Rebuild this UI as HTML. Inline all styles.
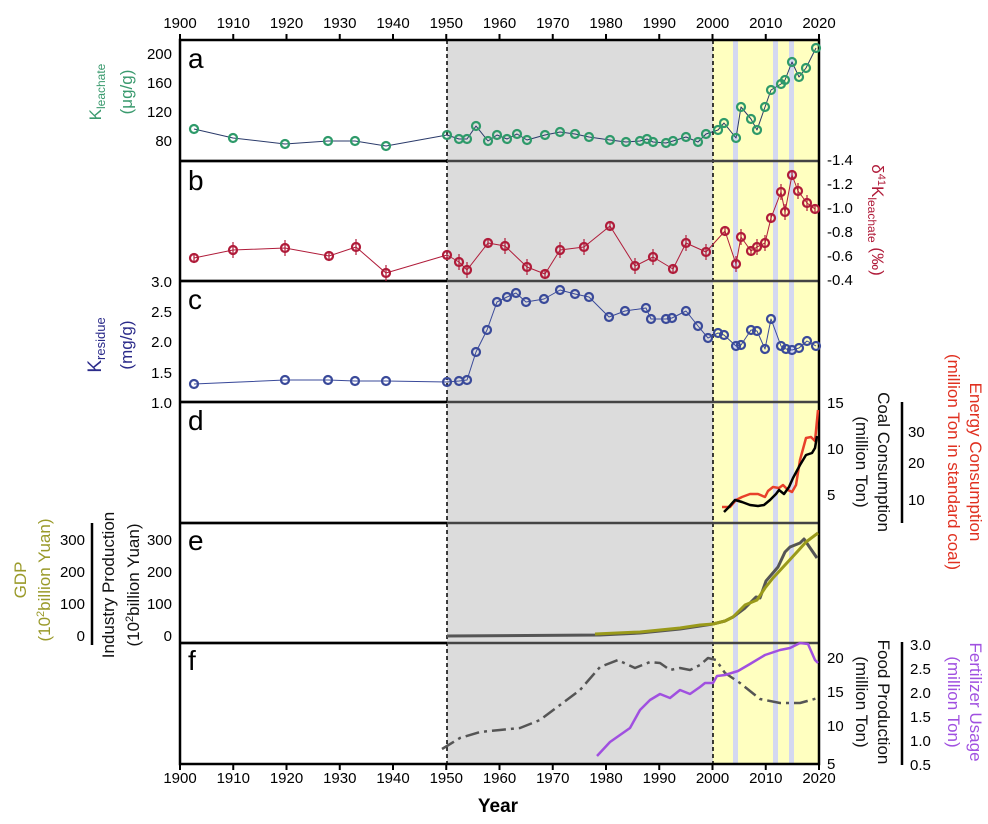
<!DOCTYPE html>
<html><head><meta charset="utf-8"><style>
body{margin:0;background:#fff;}
svg{display:block;font-family:"Liberation Sans",sans-serif;}
</style></head><body>
<svg id="s" width="988" height="824" viewBox="0 0 988 824" xmlns="http://www.w3.org/2000/svg">
<rect x="447" y="40" width="266" height="724" fill="#dcdcdc"/>
<rect x="713" y="40" width="106" height="724" fill="#ffffc0"/>
<rect x="733" y="40" width="5" height="724" fill="#d4d8f0"/>
<rect x="773" y="40" width="5" height="724" fill="#d4d8f0"/>
<rect x="789" y="40" width="5" height="724" fill="#d4d8f0"/>
<g stroke="#000" stroke-width="1.5" stroke-dasharray="4,3">
<line x1="447" y1="40" x2="447" y2="764"/><line x1="713" y1="40" x2="713" y2="764"/></g>
<g stroke="#444" stroke-width="2.5">
<line x1="180" y1="161" x2="819" y2="161"/><line x1="180" y1="281" x2="819" y2="281"/>
<line x1="180" y1="402" x2="819" y2="402"/><line x1="180" y1="523" x2="819" y2="523"/>
<line x1="180" y1="643" x2="819" y2="643"/></g>
<g stroke="#000" stroke-width="2.5">
<line x1="180" y1="161" x2="447" y2="161"/><line x1="180" y1="281" x2="447" y2="281"/>
<line x1="180" y1="402" x2="447" y2="402"/><line x1="180" y1="523" x2="447" y2="523"/>
<line x1="180" y1="643" x2="447" y2="643"/></g>
<rect x="180" y="40" width="639" height="724" fill="none" stroke="#000" stroke-width="2.5"/>
<g id="dyn"></g>
<g font-size="28" fill="#000"><text x="188" y="68">a</text><text x="188" y="190">b</text><text x="188" y="309">c</text><text x="188" y="430">d</text><text x="188" y="550">e</text><text x="188" y="670">f</text></g>
<g font-size="15" text-anchor="middle" id="xl"></g>
<text x="498" y="812" font-size="19" font-weight="bold" text-anchor="middle">Year</text>
<g font-size="15" text-anchor="end">
<text x="172" y="59">200</text><text x="172" y="88">160</text><text x="172" y="117">120</text><text x="172" y="146">80</text>
<text x="172" y="287">3.0</text><text x="172" y="317">2.5</text><text x="172" y="347">2.0</text><text x="172" y="378">1.5</text><text x="172" y="408">1.0</text>
<text x="172" y="545">300</text><text x="172" y="577">200</text><text x="172" y="609">100</text><text x="172" y="641">0</text>
<text x="85" y="545">300</text><text x="85" y="577">200</text><text x="85" y="609">100</text><text x="85" y="641">0</text>
</g>
<line x1="92" y1="523" x2="92" y2="645" stroke="#000" stroke-width="2.5"/>
<g font-size="15">
<text x="827" y="165">-1.4</text><text x="827" y="189">-1.2</text><text x="827" y="213">-1.0</text><text x="827" y="237">-0.8</text><text x="827" y="261">-0.6</text><text x="827" y="285">-0.4</text>
<text x="827" y="408">15</text><text x="827" y="454">10</text><text x="827" y="500">5</text>
<text x="908" y="437">30</text><text x="908" y="468">20</text><text x="908" y="505">10</text>
<text x="827" y="663">20</text><text x="827" y="697">15</text><text x="827" y="731">10</text><text x="827" y="769">5</text>
<text x="910" y="650">3.0</text><text x="910" y="674">2.5</text><text x="910" y="698">2.0</text><text x="910" y="722">1.5</text><text x="910" y="746">1.0</text><text x="910" y="770">0.5</text>
</g>
<line x1="902" y1="402" x2="902" y2="523" stroke="#000" stroke-width="2.5"/>
<line x1="902" y1="642" x2="902" y2="765" stroke="#000" stroke-width="2.5"/>
<g font-size="17">
<text transform="translate(101,92) rotate(-90)" text-anchor="middle" fill="#3a9a6e">K<tspan font-size="12" dy="4">leachate</tspan></text>
<text transform="translate(132,92) rotate(-90)" text-anchor="middle" fill="#3a9a6e">(μg/g)</text>
<text transform="translate(101,345) rotate(-90)" text-anchor="middle" fill="#2b2b8a" font-size="19">K<tspan font-size="13" dy="4">residue</tspan></text>
<text transform="translate(132,345) rotate(-90)" text-anchor="middle" fill="#2b2b8a">(mg/g)</text>
<text transform="translate(26,580) rotate(-90)" text-anchor="middle" fill="#9a9a2a">GDP</text>
<text transform="translate(50,580) rotate(-90)" text-anchor="middle" fill="#9a9a2a">(10<tspan font-size="11" dy="-6">2</tspan><tspan dy="6">billion Yuan)</tspan></text>
<text transform="translate(114,585) rotate(-90)" text-anchor="middle" fill="#111">Industry Production</text>
<text transform="translate(139,585) rotate(-90)" text-anchor="middle" fill="#111">(10<tspan font-size="11" dy="-6">2</tspan><tspan dy="6">billion Yuan)</tspan></text>
<text transform="translate(872,220) rotate(90)" text-anchor="middle" fill="#b01c3a">δ<tspan font-size="11" dy="-6">41</tspan><tspan dy="6">K</tspan><tspan font-size="12" dy="4">leachate</tspan><tspan dy="-4"> (‰)</tspan></text>
<text transform="translate(878,462) rotate(90)" text-anchor="middle" fill="#111">Coal Consumption</text>
<text transform="translate(856,462) rotate(90)" text-anchor="middle" fill="#111">(million Ton)</text>
<text transform="translate(970,462) rotate(90)" text-anchor="middle" fill="#e03020">Energy Consumption</text>
<text transform="translate(948,462) rotate(90)" text-anchor="middle" fill="#e03020">(million Ton in standard coal)</text>
<text transform="translate(878,702) rotate(90)" text-anchor="middle" fill="#111">Food Production</text>
<text transform="translate(856,702) rotate(90)" text-anchor="middle" fill="#111">(million Ton)</text>
<text transform="translate(970,702) rotate(90)" text-anchor="middle" fill="#a050e0">Fertilizer Usage</text>
<text transform="translate(948,702) rotate(90)" text-anchor="middle" fill="#a050e0">(million  Ton)</text>
</g>
</svg>
<script>
var NS="http://www.w3.org/2000/svg",d=document.getElementById("dyn"),xl=document.getElementById("xl");
function el(t,a,p){var e=document.createElementNS(NS,t);for(var k in a)e.setAttribute(k,a[k]);(p||d).appendChild(e);return e;}
function pts(a){return a.map(function(p){return p[0]+","+p[1]}).join(" ");}
function line(a,c,w,dash){var o={points:pts(a),fill:"none",stroke:c,"stroke-width":w,"stroke-linejoin":"round"};if(dash)o["stroke-dasharray"]=dash;el("polyline",o);}
function mk(a,c){a.forEach(function(p){el("circle",{cx:p[0],cy:p[1],r:4,fill:"none",stroke:c,"stroke-width":2.2});});}
for(var y=1900;y<=2020;y+=10){var x=180+(y-1900)*5.325;
 var t=el("text",{x:x,y:28},xl);t.textContent=y;var t2=el("text",{x:x,y:783},xl);t2.textContent=y;
 el("line",{x1:x,y1:40,x2:x,y2:34,stroke:"#000","stroke-width":2});el("line",{x1:x,y1:764,x2:x,y2:770,stroke:"#000","stroke-width":2});}
var A=[[194,129],[233,138],[285,144],[328,141],[355,141],[386,146],[447,135],[459,139],[467,139],[476,126],[488,141],[497,135],[507,139],[517,134],[527,140],[545,135],[560,132],[575,134],[589,137],[610,140],[626,142],[640,141],[647,139],[653,142],[666,143],[673,141],[686,137],[698,142],[706,134],[718,130],[724,123],[736,138],[741,107],[751,119],[757,130],[765,107],[771,90],[781,84],[785,80],[792,62],[799,77],[806,68],[816,48]];
line(A,"#2a3a6a",1);mk(A,"#2e9a6a");
var B=[[194,258],[233,250],[285,248],[329,256],[356,247],[386,273],[447,255],[459,262],[467,270],[488,243],[505,246],[527,267],[545,274],[560,250],[584,247],[610,226],[635,266],[653,257],[673,269],[686,243],[706,252],[725,231],[736,264],[741,237],[751,251],[757,247],[765,243],[771,218],[781,192],[785,212],[792,175],[798,191],[807,203],[815,209]];
line(B,"#b01c3a",1);
B.forEach(function(p,i){var e=(i%3==0)?5:8;el("line",{x1:p[0],y1:p[1]-e,x2:p[0],y2:p[1]+e,stroke:"#b01c3a","stroke-width":1.2});});
mk(B,"#b01c3a");
var C=[[194,384],[285,380],[328,380],[355,381],[386,381],[447,382],[459,381],[467,380],[476,352],[487,330],[497,302],[507,297],[516,293],[526,302],[544,299],[560,290],[575,294],[589,297],[609,317],[625,311],[646,308],[651,319],[666,319],[672,318],[686,311],[698,326],[708,338],[718,333],[724,335],[736,346],[741,345],[751,330],[757,331],[765,349],[771,319],[781,346],[786,349],[792,350],[799,348],[807,341],[816,346]];
line(C,"#3a4a9a",1);mk(C,"#3a4a9a");
line([[722,507],[730,507],[736,500],[742,497],[750,494],[758,494],[765,497],[768,491],[773,487],[779,488],[783,485],[788,490],[792,492],[796,485],[800,460],[806,438],[811,437],[815,441],[818,410]],"#e8402a",2.5);
line([[724,512],[728,508],[735,500],[742,502],[750,505],[758,506],[764,505],[770,500],[776,494],[779,490],[784,494],[789,487],[793,478],[800,465],[806,455],[812,453],[815,448],[817,436]],"#000",2.5);
line([[447,636],[600,635],[640,633],[680,629],[700,626],[713,624],[725,621],[733,617],[745,608],[756,597],[760,598],[766,581],[778,567],[785,552],[790,547],[800,543],[804,539],[817,558]],"#555",3);
line([[595,634],[640,632],[680,628],[700,625],[713,624],[725,621],[733,617],[745,605],[757,600],[765,588],[773,578],[785,565],[797,552],[806,542],[818,533]],"#9a9a1a",3);
line([[442,749],[460,738],[480,732],[500,730],[520,728],[540,720],[560,705],[580,690],[600,667],[618,660],[622,662],[635,668],[650,662],[660,663],[670,670],[680,668],[690,670],[700,665],[708,658],[716,660],[725,673],[740,683],[760,699],[780,703],[800,703],[818,698]],"#555",2.5,"14,5,3,5");
line([[597,756],[610,742],[620,735],[630,728],[640,710],[650,700],[660,694],[670,698],[680,690],[690,694],[700,687],[705,683],[713,683],[717,676],[725,675],[738,671],[750,664],[765,655],[780,650],[790,648],[800,643],[808,644],[815,660],[818,663]],"#a050e0",2.5);
</script>
</body></html>
